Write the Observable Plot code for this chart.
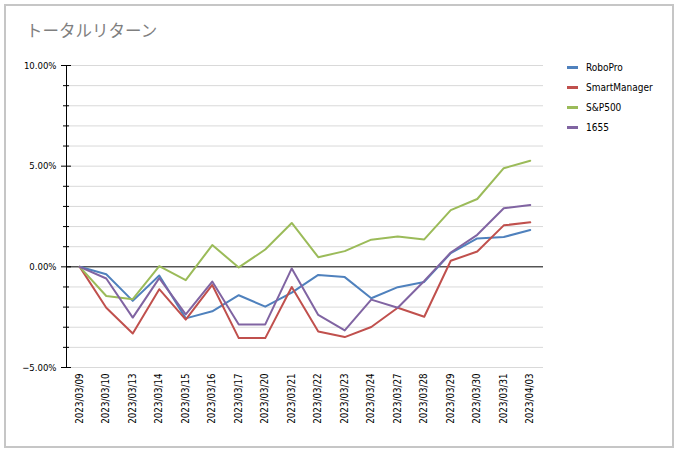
<!DOCTYPE html>
<html><head><meta charset="utf-8">
<script src="https://cdn.jsdelivr.net/npm/d3@7"></script>
<script src="https://cdn.jsdelivr.net/npm/@observablehq/plot@0.6"></script>
<style>
body{margin:0;background:#fff;}
#wrap{position:relative;width:680px;height:455px;overflow:hidden;}
#border{position:absolute;left:4px;top:4px;width:670px;height:444px;border:2px solid #c6c6c6;box-sizing:border-box;pointer-events:none;}
#title{position:absolute;left:26px;top:22px;font-family:"Noto Sans CJK JP",sans-serif;font-size:16.5px;line-height:1;color:#7f7f7f;white-space:nowrap;}
#legend{position:absolute;left:567px;top:57px;font-family:"Liberation Sans Narrow","DejaVu Sans Condensed",sans-serif;font-size:10px;color:#000;}
.item{height:20px;display:flex;align-items:center;}
.sw{width:11px;height:3px;margin-right:8px;}
#chart{position:absolute;left:0;top:0;}
</style>
</head><body>
<div id="wrap">
  <div id="chart"></div>
  <div id="title">トータルリターン</div>
  <div id="legend"></div>
  <div id="border"></div>
</div>
<script>
const dates = ["2023/03/09","2023/03/10","2023/03/13","2023/03/14","2023/03/15","2023/03/16","2023/03/17","2023/03/20","2023/03/21","2023/03/22","2023/03/23","2023/03/24","2023/03/27","2023/03/28","2023/03/29","2023/03/30","2023/03/31","2023/04/03"];
const roboPro = [0, -0.37, -1.69, -0.43, -2.56, -2.21, -1.41, -1.98, -1.28, -0.40, -0.51, -1.56, -1.01, -0.75, 0.68, 1.41, 1.48, 1.83];
const smartManager = [0, -2.03, -3.31, -1.11, -2.62, -0.90, -3.54, -3.54, -1.00, -3.21, -3.49, -2.99, -2.03, -2.48, 0.30, 0.76, 2.06, 2.21];
const sp500 = [0, -1.45, -1.61, 0.03, -0.66, 1.08, -0.03, 0.86, 2.18, 0.48, 0.78, 1.35, 1.51, 1.36, 2.82, 3.37, 4.90, 5.27];
const fund1655 = [0, -0.58, -2.52, -0.56, -2.36, -0.73, -2.86, -2.86, -0.08, -2.39, -3.16, -1.63, -2.03, -0.70, 0.71, 1.59, 2.91, 3.07];
const seriesNames = ["RoboPro", "SmartManager", "S&P500", "1655"];
const seriesColors = ["#4f81bd", "#c0504d", "#9bbb59", "#8064a2"];
const majorTicks = [-5, 0, 5, 10];
const minorTicks = [-4, -3, -2, -1, 1, 2, 3, 4, 6, 7, 8, 9];
const gridTicks = [-5, -4, -3, -2, -1, 1, 2, 3, 4, 5, 6, 7, 8, 9, 10];

const seriesValues = [roboPro, smartManager, sp500, fund1655];
const data = seriesNames.flatMap((name, s) => seriesValues[s].map((v, i) => ({date: dates[i], value: v, name})));
const fmt = d3.format(".2f");
const numFont = '"Liberation Sans Narrow","DejaVu Sans Condensed",sans-serif';

const chart = Plot.plot({
  width: 680, height: 455,
  marginLeft: 66, marginRight: 137, marginTop: 65, marginBottom: 88,
  x: {type: "point", domain: dates, padding: 0.5, round: false},
  y: {domain: [-5, 10]},
  color: {domain: seriesNames, range: seriesColors},
  style: {fontFamily: numFont, fontSize: "9.5px", color: "#000", background: "#fff"},
  marks: [
    Plot.ruleY(gridTicks, {stroke: "#d9d9d9", strokeWidth: 1}),
    Plot.ruleY([0], {stroke: "#000", strokeWidth: 1}),
    Plot.lineY(data, {x: "date", y: "value", z: "name", stroke: "name", strokeWidth: 2}),
    Plot.axisX({tickSize: 0, tickRotate: -90, tickPadding: 6, label: null, fontSize: 9.7}),
    Plot.axisY({ticks: majorTicks, tickSize: 0, tickPadding: 10, label: null, tickFormat: d => fmt(d) + "%"}),
    Plot.axisY({ticks: majorTicks, tickSize: 10, dx: 5, label: null, tickFormat: () => ""}),
    Plot.axisY({ticks: minorTicks, tickSize: 6, dx: 3, label: null, tickFormat: () => ""}),
    Plot.frame({anchor: "left", stroke: "#000"})
  ]
});
document.getElementById("chart").appendChild(chart);

const legend = document.getElementById("legend");
seriesNames.forEach((n, i) => {
  const row = document.createElement("div");
  row.className = "item";
  const sw = document.createElement("div");
  sw.className = "sw";
  sw.style.background = seriesColors[i];
  const t = document.createElement("span");
  t.textContent = n;
  row.appendChild(sw); row.appendChild(t);
  legend.appendChild(row);
});
</script>
</body></html>
